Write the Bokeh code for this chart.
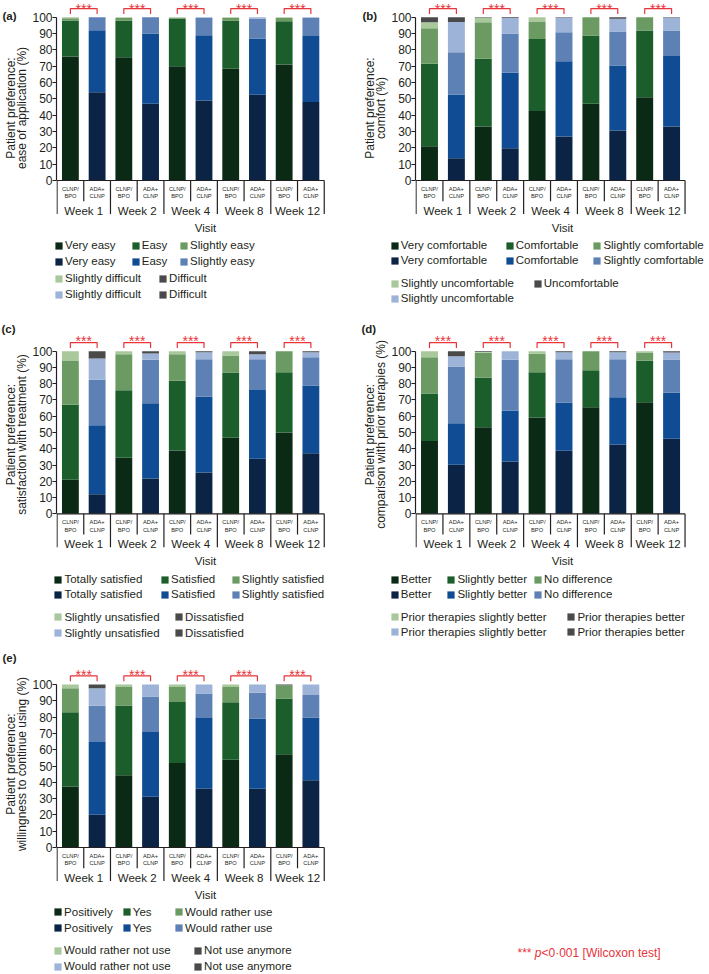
import math
from bokeh.plotting import figure
from bokeh.models import Range1d, FixedTicker, Legend, LegendItem, ColumnDataSource, GridBox
from bokeh.embed import file_html
from bokeh.resources import INLINE
from bokeh.core.properties import value

# ---------------- data (percent of patients; one row per visit, categories in stack order) -------------
WEEKS = ["Week 1", "Week 2", "Week 4", "Week 8", "Week 12"]
TREATMENTS = ["CLNP/BPO", "ADA+CLNP"]
TREATMENT_TICKS = ["CLNP/\nBPO", "ADA+\nCLNP"]

A_CATS = ["Very easy", "Easy", "Slightly easy", "Slightly difficult", "Difficult"]
A_CLNP = [[76, 22, 1.4, 0.6, 0], [75.5, 22.5, 1.5, 0.5, 0], [70, 29, 0.5, 0.5, 0],
          [68.5, 29.5, 1.5, 0.5, 0], [71, 26.5, 2, 0.5, 0]]
A_ADA = [[54, 38, 8, 0, 0], [47, 43, 10, 0, 0], [49, 40, 10.5, 0.5, 0],
         [52.5, 34.5, 12, 1, 0], [48, 40.5, 11, 0.5, 0]]

B_CATS = ["Very comfortable", "Comfortable", "Slightly comfortable", "Slightly uncomfortable", "Uncomfortable"]
B_CLNP = [[21, 50.5, 21.8, 3.6, 3.1], [33, 41.5, 22.4, 2.7, 0.4], [42.5, 44.2, 10.3, 3, 0],
          [47, 41.8, 11.2, 0, 0], [51, 40.8, 8.2, 0, 0]]
B_ADA = [[13.7, 39, 25.9, 18.4, 3], [19.8, 46.2, 24, 9.5, 0.5], [27, 46, 17.8, 8.8, 0.4],
         [30.6, 39.8, 20.8, 7.8, 1], [33, 43.3, 15.5, 7.8, 0.4]]

C_CATS = ["Totally satisfied", "Satisfied", "Slightly satisfied", "Slightly unsatisfied", "Dissatisfied"]
C_CLNP = [[21, 46, 27, 6, 0], [34.5, 41.5, 22.2, 1.8, 0], [39, 42.8, 16.4, 1.8, 0],
          [46.7, 40.2, 10.4, 2.7, 0], [50, 37.1, 12.9, 0, 0]]
C_ADA = [[12, 42.5, 28, 13, 4.5], [21.7, 46.3, 26.7, 3.9, 1.4], [25.4, 46.6, 23, 4.4, 0.6],
         [33.8, 42.4, 18.8, 3.2, 1.8], [37.3, 41.6, 17.4, 3.1, 0.6]]

D_CATS = ["Better", "Slightly better", "No difference", "Prior therapies slightly better", "Prior therapies better"]
D_CLNP = [[44.7, 29.3, 22.3, 3.7, 0], [53.3, 30.3, 15.4, 0.5, 0.5], [59.2, 27.9, 11.3, 1.6, 0],
          [65.6, 22.7, 11.7, 0, 0], [68.6, 25.5, 5.1, 0.8, 0]]
D_ADA = [[30.1, 25.6, 34.9, 6.3, 3.1], [32.2, 31.3, 31.2, 5.3, 0], [38.7, 29.7, 26.7, 4.3, 0.6],
         [42.6, 29.1, 23.4, 4.3, 0.6], [46.1, 28.3, 20.5, 4.3, 0.8]]

E_CATS = ["Positively", "Yes", "Would rather use", "Would rather not use", "Not use anymore"]
E_CLNP = [[37.3, 45.7, 14.7, 2.3, 0], [44.3, 42.8, 11.3, 1.6, 0], [51.8, 37.5, 9.1, 1.6, 0],
          [53.9, 35.2, 9.3, 1.6, 0], [57.2, 34.2, 8.2, 0, 0.4]]
E_ADA = [[20.1, 44.7, 22.1, 10.8, 2.3], [31.1, 39.8, 21.7, 7.4, 0], [36.1, 43.4, 15, 5.5, 0],
         [36.1, 43, 15.8, 5.1, 0], [41.2, 38.5, 13.9, 6.4, 0]]

Y_TICKS = list(range(0, 101, 10))
SIG_TEXT = "***"
NOTE_PARTS = ["*** ", "p", "<0·001 [Wilcoxon test]"]

# ---------------- styling / layout ----------------
GREENS = ["#0b2a15", "#1b5e2b", "#6b9b63", "#a9c89c", "#4a4a4a"]
BLUES = ["#0b2344", "#0f4c93", "#5d81b4", "#9db3d7", "#4a4a4a"]
RED = "#e8343a"
INK = "#231f20"
FONT = "Liberation Sans"
PAGE_W, PAGE_H = 709, 974
PPX = 26.9          # pixels per bar slot
BAR_W = 0.63
FRAME_BELOW = 35    # px of frame below the zero line
LONG_SEP = 33.5
SHORT_SEP = 20.7
SUB_Y = 12.0
WEEK_Y = 30.0
IH = 13


def no_align(p):
    if "frame_align" in p.properties():
        p.frame_align = False


def make_chart(ylabel, cats, clnp, ada, width, border_left, fig_top, fig_h, y0, ppu, star_px):
    border_bottom = int(round(fig_top + fig_h - (y0 + FRAME_BELOW)))
    frame_bottom = fig_top + fig_h - border_bottom
    frame_h = fig_h - border_bottom
    yb = -(frame_bottom - y0) / ppu
    yt = yb + frame_h / ppu
    xs = -0.02
    xe = xs + (width - border_left) / PPX

    p = figure(width=width, height=fig_h, x_range=Range1d(xs, xe), y_range=Range1d(yb, yt),
               output_backend="svg", toolbar_location=None,
               min_border_left=border_left, min_border_right=0, min_border_top=0,
               min_border_bottom=border_bottom)
    no_align(p)
    p.xgrid.visible = False
    p.ygrid.visible = False
    p.outline_line_color = None

    nw = len(WEEKS)
    for t, rows in enumerate((clnp, ada)):
        cum = [0.0] * nw
        for k in range(len(cats)):
            vals = [rows[w][k] for w in range(nw)]
            top = [c + v for c, v in zip(cum, vals)]
            src = ColumnDataSource(dict(x=[2 * w + t + 0.5 for w in range(nw)], bottom=list(cum), top=top))
            cum = top
            p.vbar(x="x", bottom="bottom", top="top", width=BAR_W, source=src,
                   fill_color=(GREENS if t == 0 else BLUES)[k], line_color=None)

    nslots = 2 * nw
    bx = list(range(nslots + 1))
    p.segment(x0=bx, y0=[0] * len(bx), x1=bx,
              y1=[-(LONG_SEP if i % 2 == 0 else SHORT_SEP) / ppu for i in bx],
              line_color=INK, line_width=1.2)
    p.segment(x0=[0], y0=[0], x1=[nslots], y1=[0], line_color=INK, line_width=1.2)

    p.text(x=[s + 0.5 for s in range(nslots)], y=[-SUB_Y / ppu] * nslots,
           text=TREATMENT_TICKS * nw, text_font=value(FONT), text_font_size="5.7px",
           text_align="center", text_baseline="middle", text_line_height=1.25, text_color=INK)
    p.text(x=[2 * w + 1 for w in range(nw)], y=[-WEEK_Y / ppu] * nw, text=WEEKS,
           text_font=value(FONT), text_font_size="11.5px", text_align="center",
           text_baseline="middle", text_color=INK)

    # significance brackets
    p.multi_line(xs=[[2 * w + 0.5, 2 * w + 0.5, 2 * w + 1.5, 2 * w + 1.5] for w in range(nw)],
                 ys=[[102, 105.3, 105.3, 102]] * nw, line_color=RED, line_width=1.2)
    p.text(x=[2 * w + 1 for w in range(nw)], y=[min(100 + star_px / ppu, yt - 0.05)] * nw,
           text=[SIG_TEXT] * nw, text_font=value(FONT), text_font_size="14px",
           text_align="center", text_baseline="top", text_color=RED)

    yax = p.yaxis[0]
    yax.ticker = FixedTicker(ticks=Y_TICKS, minor_ticks=[])
    yax.bounds = (0, 100)
    yax.axis_label = ylabel
    yax.axis_label_text_font = FONT
    yax.axis_label_text_font_size = "12px"
    yax.axis_label_text_font_style = "normal"
    yax.axis_label_text_color = INK
    yax.axis_label_text_line_height = 0.82
    yax.axis_label_standoff = 0
    yax.major_label_text_font = FONT
    yax.major_label_text_font_size = "12px"
    yax.major_label_text_color = INK
    yax.major_label_standoff = 0
    yax.major_tick_out = 4
    yax.major_tick_in = 0
    yax.axis_line_color = INK
    yax.axis_line_width = 1.2
    yax.major_tick_line_color = INK
    yax.major_tick_line_width = 1.2

    xax = p.xaxis[0]
    xax.ticker = FixedTicker(ticks=[])
    xax.bounds = (0, nslots)
    xax.axis_line_color = None
    xax.major_tick_line_color = None
    xax.minor_tick_line_color = None
    xax.major_tick_out = 0
    xax.major_label_standoff = 0
    xax.axis_label = "Visit"
    xax.axis_label_text_font = FONT
    xax.axis_label_text_font_size = "11.5px"
    xax.axis_label_text_font_style = "normal"
    xax.axis_label_text_color = INK
    xax.axis_label_standoff = 6
    return p


# ---------------- five charts, in reference page coordinates ----------------
LW, RW = 354, 355
LB, RB = 54, 61
ROWS = [(0, 320, 180.0, 1.633), (320, 325, 513.3, 1.626), (645, 329, 847.0, 1.63)]

pa = make_chart("Patient preference:\nease of application (%)", A_CATS, A_CLNP, A_ADA,
                LW, LB, *ROWS[0], 16.5)
pb = make_chart("Patient preference:\ncomfort (%)", B_CATS, B_CLNP, B_ADA,
                RW, RB, *ROWS[0], 16.5)
pc = make_chart("Patient preference:\nsatisfaction with treatment (%)", C_CATS, C_CLNP, C_ADA,
                LW, LB, *ROWS[1], 18.6)
pd = make_chart("Patient preference:\ncomparison with prior therapies (%)", D_CATS, D_CLNP, D_ADA,
                RW, RB, *ROWS[1], 18.6)
pe = make_chart("Patient preference:\nwillingness to continue using (%)", E_CATS, E_CLNP, E_ADA,
                LW, LB, *ROWS[2], 18.0)

# ---------------- transparent overlay: panel letters, legends, footnote ----------------
ov = figure(frame_width=PAGE_W, frame_height=PAGE_H, x_range=Range1d(0, PAGE_W),
            y_range=Range1d(PAGE_H, 0), output_backend="svg", toolbar_location=None,
            x_axis_type=None, y_axis_type=None, min_border=0)
no_align(ov)
ov.outline_line_color = None
ov.xgrid.visible = False
ov.ygrid.visible = False
ov.background_fill_alpha = 0
ov.border_fill_alpha = 0

LETTERS = ["(a)", "(b)", "(c)", "(d)", "(e)"]
LETTER_X = [2, 362, 1, 361, 2]
LETTER_Y = [15, 15, 328, 328, 657]
ov.text(x=LETTER_X, y=LETTER_Y, text=LETTERS, text_font=value(FONT), text_font_size="11.5px",
        text_font_style="bold", text_color=INK, text_baseline="middle", text_align="left")

# legend swatch renderers (one undrawn point each, so the legend has a glyph to sample)
swatch = {}
for t, pal in enumerate((GREENS, BLUES)):
    for k, col in enumerate(pal):
        swatch[(t, k)] = ov.vbar(x=[math.nan], top=[math.nan], width=1, fill_color=col, line_color=None)


def legend_col(x_sq, yc1, yc2, items):
    n = len(items)
    sp = int(round(yc2 - yc1 - IH)) if n > 1 else 0
    top = yc1 - IH / 2
    bottom = top + n * IH + (n - 1) * sp
    leg = Legend(items=items, location=(x_sq - 0.9, PAGE_H - bottom), orientation="vertical",
                 glyph_width=9, glyph_height=9, label_standoff=2, label_height=IH,
                 label_width=10, spacing=sp, padding=0, margin=0,
                 border_line_color=None, background_fill_alpha=0,
                 label_text_font=FONT, label_text_font_size="11.5px", label_text_color=INK)
    ov.add_layout(leg)


LEGENDS = [
    (A_CATS, [55, 131.7, 180], (245, 260.7), [55, 159], (278.3, 294.3), False),
    (B_CATS, [390.7, 505.7, 593.3], (245, 260), [390.7, 533.7], (283.3, 298.3), True),
    (C_CATS, [54.3, 161, 231.7], (579, 594), [54.3, 175], (616.7, 632.3), False),
    (D_CATS, [390.7, 447.3, 534], (579, 594), [390.7, 567.3], (616.7, 632), False),
    (E_CATS, [54, 122.7, 175], (911.7, 927.7), [54, 194], (950, 966), False),
]
for cats, x1, r1, x2, r2, single in LEGENDS:
    for k in range(3):
        legend_col(x1[k], r1[0], r1[1], [LegendItem(label=cats[k], renderers=[swatch[(0, k)]]),
                                         LegendItem(label=cats[k], renderers=[swatch[(1, k)]])])
    legend_col(x2[0], r2[0], r2[1], [LegendItem(label=cats[3], renderers=[swatch[(0, 3)]]),
                                     LegendItem(label=cats[3], renderers=[swatch[(1, 3)]])])
    last = [LegendItem(label=cats[4], renderers=[swatch[(0, 4)]])]
    if not single:
        last.append(LegendItem(label=cats[4], renderers=[swatch[(1, 4)]]))
    legend_col(x2[1], r2[0], r2[1], last)

FS = 12
NX, NY = 517, 952
ov.text(x=[NX], y=[NY], text=[NOTE_PARTS[0]], text_font=value(FONT), text_font_size=f"{FS}px",
        text_color=RED, text_baseline="middle")
ov.text(x=[NX + 1.445 * FS], y=[NY], text=[NOTE_PARTS[1]], text_font=value(FONT),
        text_font_size=f"{FS}px", text_font_style="italic", text_color=RED, text_baseline="middle")
ov.text(x=[NX + 2.001 * FS], y=[NY], text=[NOTE_PARTS[2]], text_font=value(FONT),
        text_font_size=f"{FS}px", text_color=RED, text_baseline="middle")

layout = GridBox(children=[(pa, 0, 0), (pb, 0, 1), (pc, 1, 0), (pd, 1, 1), (pe, 2, 0),
                           (ov, 0, 0, 3, 2)])
open("out.html", "w").write(file_html(layout, INLINE))
